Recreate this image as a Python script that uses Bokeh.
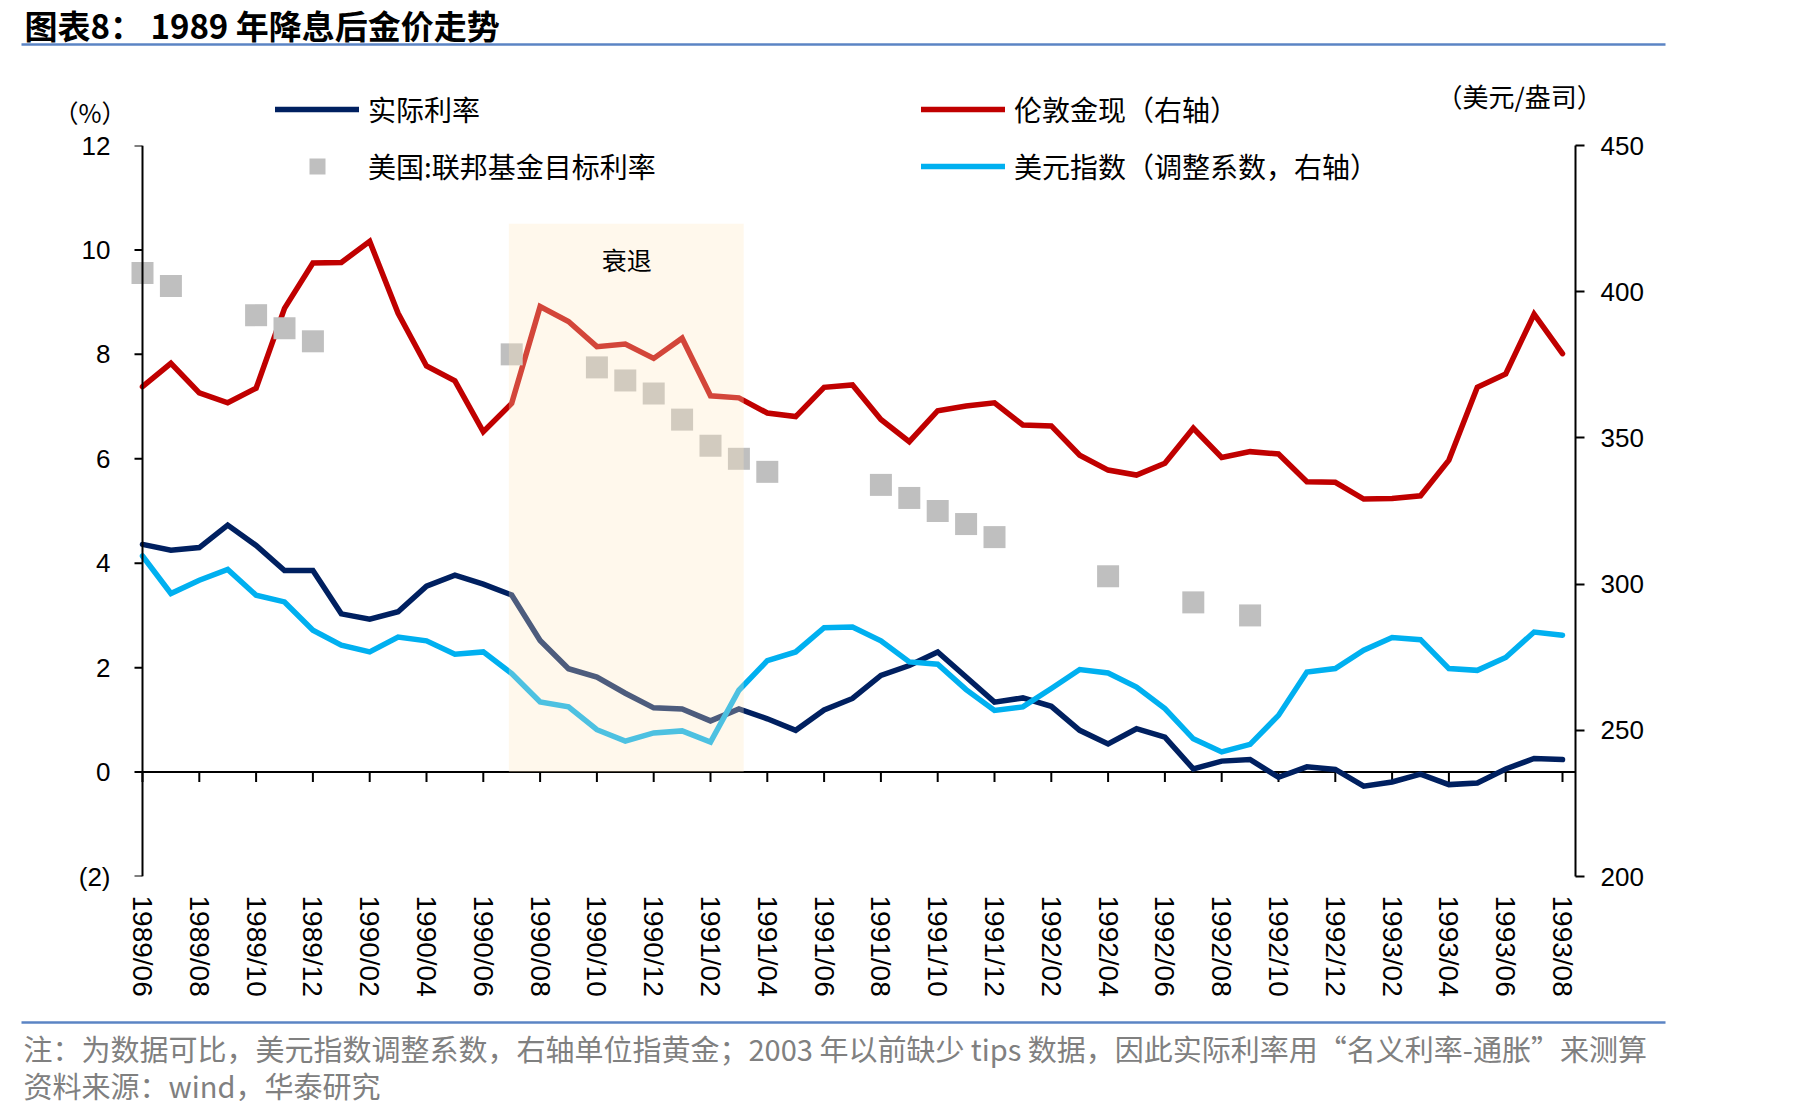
from bokeh.plotting import figure
from bokeh.models import (Range1d, LinearAxis, FixedTicker, Label, BoxAnnotation,
                          Span, Legend, LegendItem, ColumnDataSource)
from bokeh.embed import file_html
from bokeh.resources import INLINE

# ---------------- data ----------------
months = ["1989/06", "1989/07", "1989/08", "1989/09", "1989/10", "1989/11", "1989/12",
          "1990/01", "1990/02", "1990/03", "1990/04", "1990/05", "1990/06", "1990/07",
          "1990/08", "1990/09", "1990/10", "1990/11", "1990/12", "1991/01", "1991/02",
          "1991/03", "1991/04", "1991/05", "1991/06", "1991/07", "1991/08", "1991/09",
          "1991/10", "1991/11", "1991/12", "1992/01", "1992/02", "1992/03", "1992/04",
          "1992/05", "1992/06", "1992/07", "1992/08", "1992/09", "1992/10", "1992/11",
          "1992/12", "1993/01", "1993/02", "1993/03", "1993/04", "1993/05", "1993/06",
          "1993/07", "1993/08"]

real_rate = [4.36, 4.25, 4.30, 4.73, 4.34, 3.86, 3.86, 3.03, 2.93, 3.07, 3.56, 3.77, 3.60,
             3.39, 2.52, 1.98, 1.82, 1.51, 1.23, 1.21, 0.98, 1.21, 1.02, 0.80, 1.19, 1.41,
             1.85, 2.04, 2.30, 1.82, 1.34, 1.42, 1.26, 0.80, 0.54, 0.83, 0.67, 0.06, 0.21,
             0.24, -0.10, 0.10, 0.05, -0.27, -0.19, -0.04, -0.24, -0.21, 0.06, 0.26, 0.24]

fed_target = [9.56, 9.31, None, None, 8.75, 8.50, 8.25, None, None, None, None, None, None,
              8.00, None, None, 7.75, 7.50, 7.25, 6.75, 6.25, 6.00, 5.75, None, None, None,
              5.50, 5.25, 5.00, 4.75, 4.50, None, None, None, 3.75, None, None, 3.25, None,
              3.00, None, None, None, None, None, None, None, None, None, None, None]

gold = [367.5, 375.5, 365.4, 362.0, 367.0, 394.3, 409.8, 410.0, 417.2, 392.6, 374.6, 369.5,
        352.1, 361.8, 394.9, 389.8, 381.2, 382.1, 377.2, 384.1, 364.4, 363.7, 358.5, 357.3,
        367.3, 368.1, 356.3, 348.7, 359.3, 360.9, 362.0, 354.4, 354.1, 344.1, 339.0, 337.3,
        341.3, 353.3, 343.3, 345.3, 344.5, 335.0, 334.8, 329.1, 329.3, 330.2, 342.4, 367.3,
        371.9, 392.3, 378.8]

usd_index = [309.6, 296.8, 301.3, 305.0, 296.2, 293.9, 284.2, 279.1, 276.8, 281.9, 280.6,
             276.0, 276.8, 269.4, 259.7, 258.0, 250.2, 246.3, 249.1, 249.8, 246.0, 263.7,
             273.8, 276.8, 285.1, 285.3, 280.6, 273.4, 272.6, 263.9, 256.8, 258.0, 264.3,
             270.8, 269.6, 264.8, 257.4, 247.1, 242.6, 245.2, 255.1, 269.9, 271.1, 277.4,
             281.7, 281.0, 271.1, 270.5, 274.9, 283.6, 282.5]

recession = ("1990/07", "1991/03")
left_ticks = [-2, 0, 2, 4, 6, 8, 10, 12]
left_labels = {-2: "(2)"}
right_ticks = [200, 250, 300, 350, 400, 450]

# ---------------- layout constants ----------------
W, H = 1819, 1118
TOP_H = 130            # title / first legend row strip
BOT_Y = 1005           # start of note strip
AX_L, FR, FT, FB = 142, 1575, 145, 876   # axis x, frame right/top/bottom (page px)
FL = 125               # frame left (a bit left of the axis so edge squares are whole)
PX_MONTH = 28.4
X0 = -(AX_L - FL) / PX_MONTH
XMAX = (FR - AX_L) / PX_MONTH

NAVY, RED, BLUE, GRAY = "#002060", "#C00000", "#00B0F0", "#BFBFBF"
RULE = "#5B84C4"
CJK = "Noto Sans CJK SC"
NUM = "Liberation Sans"
LW = 5.5


def strip(height):
    f = figure(width=W, height=height, output_backend="svg", toolbar_location=None,
               x_range=Range1d(0, W), y_range=Range1d(height, 0),
               x_axis_type=None, y_axis_type=None,
               min_border_left=0, min_border_right=0, min_border_top=0, min_border_bottom=0)
    f.outline_line_color = None
    f.background_fill_color = "white"
    f.border_fill_color = "white"
    return f


def txt(f, x, y, s, size, color="black", bold=False, align="left"):
    f.add_layout(Label(x=x, y=y, text=s, text_font=CJK, text_font_size=size,
                       text_font_style="bold" if bold else "normal",
                       text_align=align, text_baseline="middle", text_color=color))


leg_style = dict(orientation="vertical", glyph_width=84, glyph_height=40, label_height=40,
                 label_width=10, spacing=12, padding=0, margin=0, label_standoff=9,
                 border_line_alpha=0, background_fill_alpha=0,
                 label_text_font=CJK, label_text_font_size="28px",
                 label_text_color="black")

# ---------------- top strip ----------------
top = strip(TOP_H)
txt(top, 24, 24, "图表8： 1989 年降息后金价走势", "33px", bold=True)
top.segment(x0=[21], y0=[44], x1=[1665], y1=[44], line_color=RULE, line_width=2.5)
txt(top, 53, 111, "（%）", "25px")
txt(top, 1436, 95, "（美元/盎司）", "26px")
t_real = top.line(x=[-500], y=[-500], line_color=NAVY, line_width=LW, line_cap="round")
t_gold = top.line(x=[-500], y=[-500], line_color=RED, line_width=LW, line_cap="round")
top.add_layout(Legend(items=[LegendItem(label="实际利率", renderers=[t_real])],
                      location=(275, 1), **leg_style))
top.add_layout(Legend(items=[LegendItem(label="伦敦金现（右轴）", renderers=[t_gold])],
                      location=(921, 1), **leg_style))

# ---------------- main chart ----------------
x = list(range(len(months)))
src = ColumnDataSource(dict(
    x=x, real=real_rate, gold=gold, usd=usd_index,
    fed=[float("nan") if v is None else v for v in fed_target]))

p = figure(width=W, height=BOT_Y - TOP_H, output_backend="svg", toolbar_location=None,
           x_range=Range1d(X0, XMAX), y_range=Range1d(-2, 12),
           min_border_left=FL, min_border_right=W - FR,
           min_border_top=FT - TOP_H, min_border_bottom=BOT_Y - FB)
p.extra_y_ranges = {"gold": Range1d(200, 450)}
p.xgrid.visible = False
p.ygrid.visible = False
p.outline_line_color = None
p.background_fill_color = "white"
p.border_fill_color = "white"

# left axis: labels from the axis, line and ticks at x = first month
ya = p.yaxis[0]
ya.ticker = FixedTicker(ticks=left_ticks)
ya.major_label_overrides = left_labels
ya.axis_line_color = None
ya.major_tick_line_color = None
ya.minor_tick_line_color = None
ya.major_tick_in = 0
ya.major_tick_out = 0
ya.major_label_standoff = 15
ya.major_label_text_font = NUM
ya.major_label_text_font_size = "26px"
ya.major_label_text_color = "black"
p.add_layout(Span(location=0, dimension="height", line_color="black", line_width=2))
ltick = 8 / PX_MONTH
p.segment(x0=[0] * len(left_ticks), y0=left_ticks, x1=[-ltick] * len(left_ticks),
          y1=left_ticks, line_color="black", line_width=2)

# right axis
ra = LinearAxis(y_range_name="gold", ticker=FixedTicker(ticks=right_ticks))
ra.axis_line_width = 2
ra.major_tick_line_width = 2
ra.major_tick_in = 0
ra.major_tick_out = 9
ra.minor_tick_line_color = None
ra.major_label_standoff = 16
ra.major_label_text_font = NUM
ra.major_label_text_font_size = "26px"
ra.major_label_text_color = "black"
p.add_layout(ra, "right")

# bottom labels (placed at the plot bottom)
xa = p.xaxis[0]
xa.ticker = FixedTicker(ticks=x[::2])
xa.major_label_overrides = {i: months[i] for i in x[::2]}
xa.major_label_orientation = "vertical"
xa.axis_line_color = None
xa.major_tick_line_color = None
xa.minor_tick_line_color = None
xa.major_tick_in = 0
xa.major_tick_out = 0
xa.major_label_standoff = 19
xa.major_label_text_font = NUM
xa.major_label_text_font_size = "28px"
xa.major_label_text_color = "black"

# zero line with category ticks
p.segment(x0=[0], y0=[0], x1=[XMAX], y1=[0], line_color="black", line_width=2)
tick_len = 10 * 14.0 / (FB - FT)
p.segment(x0=x[::2], y0=[0] * len(x[::2]), x1=x[::2], y1=[-tick_len] * len(x[::2]),
          line_color="black", line_width=2)

# series
r_real = p.line("x", "real", source=src, line_color=NAVY, line_width=LW,
                line_join="miter", line_cap="round")
r_usd = p.line("x", "usd", source=src, y_range_name="gold", line_color=BLUE,
               line_width=LW, line_join="miter", line_cap="round")
r_gold = p.line("x", "gold", source=src, y_range_name="gold", line_color=RED,
                line_width=LW, line_join="miter", line_cap="round")
r_fed = p.scatter("x", "fed", source=src, marker="square", size=22,
                  fill_color=GRAY, line_color=None)

# recession shading
i0 = months.index(recession[0])
i1 = months.index(recession[1])
p.add_layout(BoxAnnotation(left=i0 - 0.1, right=i1 + 0.17, bottom=0, top=10.5,
                           fill_color="#FFE9C0", fill_alpha=0.3, line_color=None))
p.add_layout(Label(x=(i0 + i1) / 2 + 0.05, y=12 - (258 - FT) * 14.0 / (FB - FT),
                   text="衰退", text_align="center", text_baseline="middle",
                   text_font=CJK, text_font_size="25px", text_color="black"))

# second legend row (inside the frame)
p.add_layout(Legend(items=[LegendItem(label="美国:联邦基金目标利率", renderers=[r_fed])],
                    location=(275 - FL, FB - 186), **leg_style))
p.add_layout(Legend(items=[LegendItem(label="美元指数（调整系数，右轴）", renderers=[r_usd])],
                    location=(921 - FL, FB - 186), **leg_style))

# ---------------- note strip ----------------
bot = strip(H - BOT_Y)
bot.segment(x0=[21], y0=[1022 - BOT_Y], x1=[1665], y1=[1022 - BOT_Y],
            line_color=RULE, line_width=2.5)
txt(bot, 23, 1047 - BOT_Y,
    "注：为数据可比，美元指数调整系数，右轴单位指黄金；2003 年以前缺少 tips 数据，因此实际利率用“名义利率-通胀”来测算",
    "29px", color="#808080")
txt(bot, 23, 1084 - BOT_Y, "资料来源：wind，华泰研究", "29px", color="#808080")

open("out.html", "w").write(file_html([top, p, bot], INLINE))
